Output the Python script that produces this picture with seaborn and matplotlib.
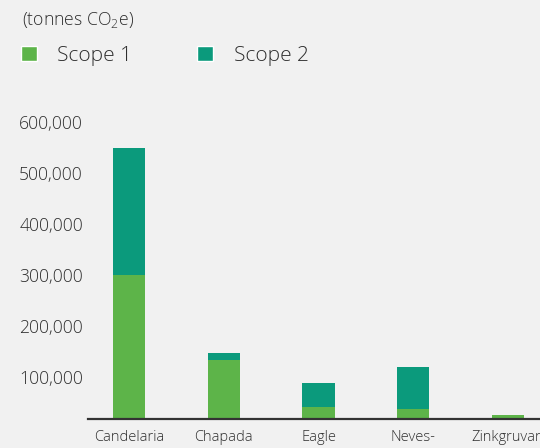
import matplotlib
matplotlib.use("Agg")
import matplotlib.pyplot as plt
import seaborn as sns
import pandas as pd
from matplotlib.patches import Patch

sns.set_theme(style="white")
plt.rcParams['font.family'] = ['Open Sans', 'DejaVu Sans']
plt.rcParams['font.weight'] = 'light'
plt.rcParams['mathtext.fontset'] = 'custom'
plt.rcParams['mathtext.rm'] = 'Open Sans:light'

# data (tonnes CO2e)
sites = ["Candelaria", "Chapada", "Eagle", "Neves-\nCorvo", "Zinkgruvan"]
scope1 = [300000, 132000, 40000, 36000, 24000]
scope2 = [250000, 14000, 47000, 83000, 0]
yticks = [100000, 200000, 300000, 400000, 500000, 600000]

green = "#5db449"
teal = "#0b9a7c"
bg = "#f1f1f1"
txt = "#2e2e2e"

df = pd.DataFrame({"site": sites, "scope1": scope1, "scope2": scope2})
df["total"] = df["scope1"] + df["scope2"]

fig = plt.figure(figsize=(5.4, 4.48), dpi=100, facecolor=bg)
ax = fig.add_axes([0.163, 0.0647, 0.837, 0.69])
ax.set_facecolor(bg)

# stacked: total bar first, scope 1 drawn over it
sns.barplot(data=df, x="site", y="total", color=teal, saturation=1, width=0.338,
            linewidth=0, ax=ax)
sns.barplot(data=df, x="site", y="scope1", color=green, saturation=1, width=0.338,
            linewidth=0, ax=ax)

ax.set_xlim(-0.433, 4.338)
ax.set_ylim(16900, 624000)
ax.set_yticks(yticks)
ax.set_yticklabels([f"{v:,}" for v in yticks])
ax.set_xlabel("")
ax.set_ylabel("")
ax.tick_params(axis="y", length=0, pad=3.6, labelsize=12.7, labelcolor=txt)
ax.tick_params(axis="x", length=0, pad=8, labelsize=10.5, labelcolor=txt)
for lab in ax.get_xticklabels():
    lab.set_verticalalignment("top")
    lab.set_linespacing(1.6)

for s in ["left", "right", "top"]:
    ax.spines[s].set_visible(False)
ax.spines["bottom"].set_color("#333333")
ax.spines["bottom"].set_linewidth(1.6)

fig.text(22 / 540, 1 - 20 / 448, r"(tonnes CO$_{2}$e)", fontsize=12.7, color=txt, va="center")

handles = [Patch(facecolor=green, label="Scope 1"), Patch(facecolor=teal, label="Scope 2")]
fig.legend(handles=handles, loc="center left", bbox_to_anchor=(21 / 540, 1 - 56 / 448),
           ncol=2, frameon=False, fontsize=15, labelcolor=txt,
           borderaxespad=0, borderpad=0,
           handlelength=0.75, handleheight=0.75, handletextpad=1.0, columnspacing=3.1)

fig.savefig("out.png", dpi=100, facecolor=bg)
